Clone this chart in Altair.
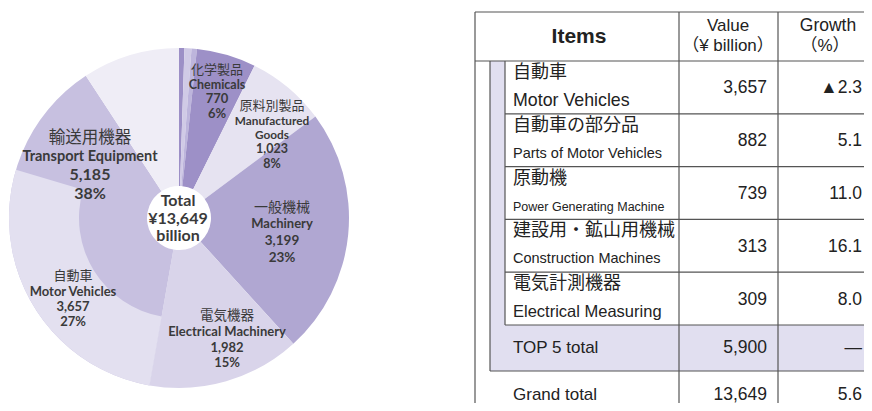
import altair as alt
import pandas as pd

# ---------------- data ----------------
pie_jp = ["食料品", "原料品", "鉱物性燃料", "化学製品", "原料別製品", "一般機械", "電気機器", "輸送用機器", "その他"]
pie_en = ["Foodstuff", "Raw Materials", "Mineral Fuels", "Chemicals", "Manufactured\nGoods",
          "Machinery", "Electrical Machinery", "Transport Equipment", "Others"]
pie_values = [70, 90, 70, 770, 1023, 3199, 1982, 5185, 1260]
pie_pct = ["", "", "", "6%", "8%", "23%", "15%", "38%", ""]
motor_jp = "自動車"
motor_en = "Motor Vehicles"
motor_value = 3657
motor_pct = "27%"
total_value = 13649

table_jp = ["自動車", "自動車の部分品", "原動機", "建設用・鉱山用機械", "電気計測機器"]
table_en = ["Motor Vehicles", "Parts of Motor Vehicles", "Power Generating Machine",
            "Construction Machines", "Electrical Measuring"]
table_values = [3657, 882, 739, 313, 309]
table_growth = ["▲2.3", "5.1", "11.0", "16.1", "8.0"]
top5_label = "TOP 5 total"
top5_value = 5900
top5_growth = "—"
grand_label = "Grand total"
grand_value = 13649
grand_growth = "5.6"

# ---------------- styles / layout ----------------
pie_colors = ["#9c8fc6", "#d0cae6", "#bdb5dc", "#9d90c7", "#e6e3f1",
              "#b0a7d2", "#d9d4ea", "#c7c0e0", "#efedf6"]
motor_color = "#e3e0f0"
TXT = "#3a3a3a"
PIE_FONT = "Lato, Noto Sans CJK JP, sans-serif"
JP_FONT = "Noto Sans CJK JP, sans-serif"
TAB_FONT = "Liberation Sans, Noto Sans CJK JP, sans-serif"
LINE = "#555555"
FILL = "#e1dff0"

W, H = 856, 395
cx, cy = 171, 210
R_OUT, R_MID, R_HOLE = 170, 100, 32

# label layout: slice index -> (dx, dy, jp size, en size, number size, gap, line height)
label_layout = {
    3: (38, -148, 13, 12.5, 13, 14.5, 14.5),
    4: (93, -112, 13, 11.8, 12.5, 15, 14.2),
    5: (103, -10, 14, 13, 13.5, 16, 17),
    6: (48, 98, 13.5, 13, 13, 16, 15.5),
    7: (-89, -80, 16.5, 14.5, 16, 18.5, 18.5),
}
motor_layout = (-106, 58, 13, 13, 13, 16, 15)

# ---------------- pie ----------------
pie_df = pd.DataFrame({"idx": list(range(len(pie_values))), "value": pie_values, "color": pie_colors})
outer_values = pie_values[:7] + [motor_value, pie_values[7] - motor_value, pie_values[8]]
outer_df = pd.DataFrame({"idx": list(range(len(outer_values))), "value": outer_values,
                         "op": [0] * 7 + [1, 0, 0]})

arc_all = alt.Chart(pie_df).mark_arc(radius=R_OUT, radius2=R_HOLE).encode(
    theta=alt.Theta("value:Q", stack=True),
    order=alt.Order("idx:Q"),
    color=alt.Color("color:N", scale=None),
    x=alt.value(cx), y=alt.value(cy),
)
arc_motor = alt.Chart(outer_df).mark_arc(radius=R_OUT, radius2=R_MID, color=motor_color).encode(
    theta=alt.Theta("value:Q", stack=True),
    order=alt.Order("idx:Q"),
    opacity=alt.Opacity("op:Q", scale=None),
    x=alt.value(cx), y=alt.value(cy),
)

jp_rows, bold_rows = [], []


def add_label(jp, en, value, pct, lay):
    dx, dy, sjp, sen, snum, gap, lh = lay
    x0, y0 = cx + dx, cy + dy
    jp_rows.append({"x": x0, "y": y0, "text": jp, "size": sjp})
    lines = [(t, sen) for t in en.split("\n")] + [(f"{value:,}", snum), (pct, snum)]
    for k, (t, s) in enumerate(lines):
        bold_rows.append({"x": x0, "y": y0 + gap + k * lh, "text": t, "size": s})


for i, lay in label_layout.items():
    add_label(pie_jp[i], pie_en[i], pie_values[i], pie_pct[i], lay)
add_label(motor_jp, motor_en, motor_value, motor_pct, motor_layout)

for k, t in enumerate(["Total", f"¥{total_value:,}", "billion"]):
    bold_rows.append({"x": cx - 1, "y": cy - 17 + k * 17.5, "text": t, "size": 16})

pie_jp_text = alt.Chart(pd.DataFrame(jp_rows)).mark_text(
    font=JP_FONT, color=TXT, align="center", baseline="middle").encode(
    x=alt.X("x:Q", scale=None), y=alt.Y("y:Q", scale=None),
    text="text:N", size=alt.Size("size:Q", scale=None))
pie_bold_text = alt.Chart(pd.DataFrame(bold_rows)).mark_text(
    font=PIE_FONT, fontWeight="bold", color=TXT, align="center", baseline="middle").encode(
    x=alt.X("x:Q", scale=None), y=alt.Y("y:Q", scale=None),
    text="text:N", size=alt.Size("size:Q", scale=None))

# ---------------- table ----------------
L, BAND, ITEM, C1, C2, RIGHT = 467, 482, 497, 671, 770, W
TOP, HB, RH = 4, 53, 52.8
n = len(table_values)
rows_bottom = HB + n * RH
top5_bottom = rows_bottom + 46
grand_mid = top5_bottom + 24
en_sizes = [17.8, 14.5, 12.5, 14.5, 16.5]
VAL_X = C2 - 11
GR_X = RIGHT - 2
NUM = 17.5

rects = pd.DataFrame([
    {"x": BAND, "x2": ITEM, "y": HB, "y2": top5_bottom},
    {"x": BAND, "x2": RIGHT, "y": rows_bottom, "y2": top5_bottom},
])
rules = [
    {"x": L, "x2": RIGHT, "y": TOP, "y2": TOP},
    {"x": L, "x2": RIGHT, "y": HB, "y2": HB},
    {"x": L, "x2": L, "y": TOP, "y2": H},
    {"x": C1, "x2": C1, "y": TOP, "y2": H},
    {"x": C2, "x2": C2, "y": TOP, "y2": H},
    {"x": BAND, "x2": BAND, "y": HB, "y2": top5_bottom},
    {"x": ITEM, "x2": ITEM, "y": HB, "y2": rows_bottom},
    {"x": BAND, "x2": RIGHT, "y": top5_bottom, "y2": top5_bottom},
]
for k in range(1, n + 1):
    yk = HB + k * RH
    rules.append({"x": ITEM, "x2": RIGHT, "y": yk, "y2": yk})
rules_df = pd.DataFrame(rules)

left_rows, right_rows = [], []
for i in range(n):
    y0 = HB + i * RH
    left_rows.append({"x": ITEM + 8, "y": y0 + 12, "text": table_jp[i], "size": 18})
    left_rows.append({"x": ITEM + 8, "y": y0 + 40, "text": table_en[i], "size": en_sizes[i]})
    right_rows.append({"x": VAL_X, "y": y0 + RH / 2 + 1, "text": f"{table_values[i]:,}", "size": NUM})
    right_rows.append({"x": GR_X, "y": y0 + RH / 2 + 1, "text": table_growth[i], "size": NUM})
top5_mid = (rows_bottom + top5_bottom) / 2
left_rows.append({"x": ITEM + 8, "y": top5_mid, "text": top5_label, "size": 17})
right_rows.append({"x": VAL_X, "y": top5_mid, "text": f"{top5_value:,}", "size": NUM})
right_rows.append({"x": GR_X, "y": top5_mid, "text": top5_growth, "size": NUM})
left_rows.append({"x": ITEM + 8, "y": grand_mid, "text": grand_label, "size": 17})
right_rows.append({"x": VAL_X, "y": grand_mid, "text": f"{grand_value:,}", "size": NUM})
right_rows.append({"x": GR_X, "y": grand_mid, "text": grand_growth, "size": NUM})

center_rows = [
    {"x": 720, "y": 18, "text": "Value", "size": 17},
    {"x": 720, "y": 38, "text": "（¥ billion）", "size": 17},
    {"x": 820, "y": 18, "text": "Growth", "size": 17.5},
    {"x": 817, "y": 38, "text": "（%）", "size": 17},
]
header_bold = pd.DataFrame([{"x": (L + C1) / 2 + 2, "y": 29, "text": "Items", "size": 21}])

rect_layer = alt.Chart(rects).mark_rect(color=FILL).encode(
    x=alt.X("x:Q", scale=None), x2="x2:Q", y=alt.Y("y:Q", scale=None), y2="y2:Q")
rule_layer = alt.Chart(rules_df).mark_rule(color=LINE, strokeWidth=1.2).encode(
    x=alt.X("x:Q", scale=None), x2="x2:Q", y=alt.Y("y:Q", scale=None), y2="y2:Q")


def text_layer(df, align, weight="normal"):
    return alt.Chart(pd.DataFrame(df)).mark_text(
        font=TAB_FONT, color="#222222", align=align, baseline="middle", fontWeight=weight).encode(
        x=alt.X("x:Q", scale=None), y=alt.Y("y:Q", scale=None),
        text="text:N", size=alt.Size("size:Q", scale=None))


chart = alt.layer(
    arc_all, arc_motor, pie_jp_text, pie_bold_text,
    rect_layer, rule_layer,
    text_layer(left_rows, "left"), text_layer(right_rows, "right"),
    text_layer(center_rows, "center"), text_layer(header_bold, "center", "bold"),
).properties(
    width=W, height=H, padding=0,
    autosize=alt.AutoSizeParams(type="none"),
    background="white",
).configure_view(stroke=None)

chart.save("out.html", embed_options={"renderer": "svg", "actions": False})
